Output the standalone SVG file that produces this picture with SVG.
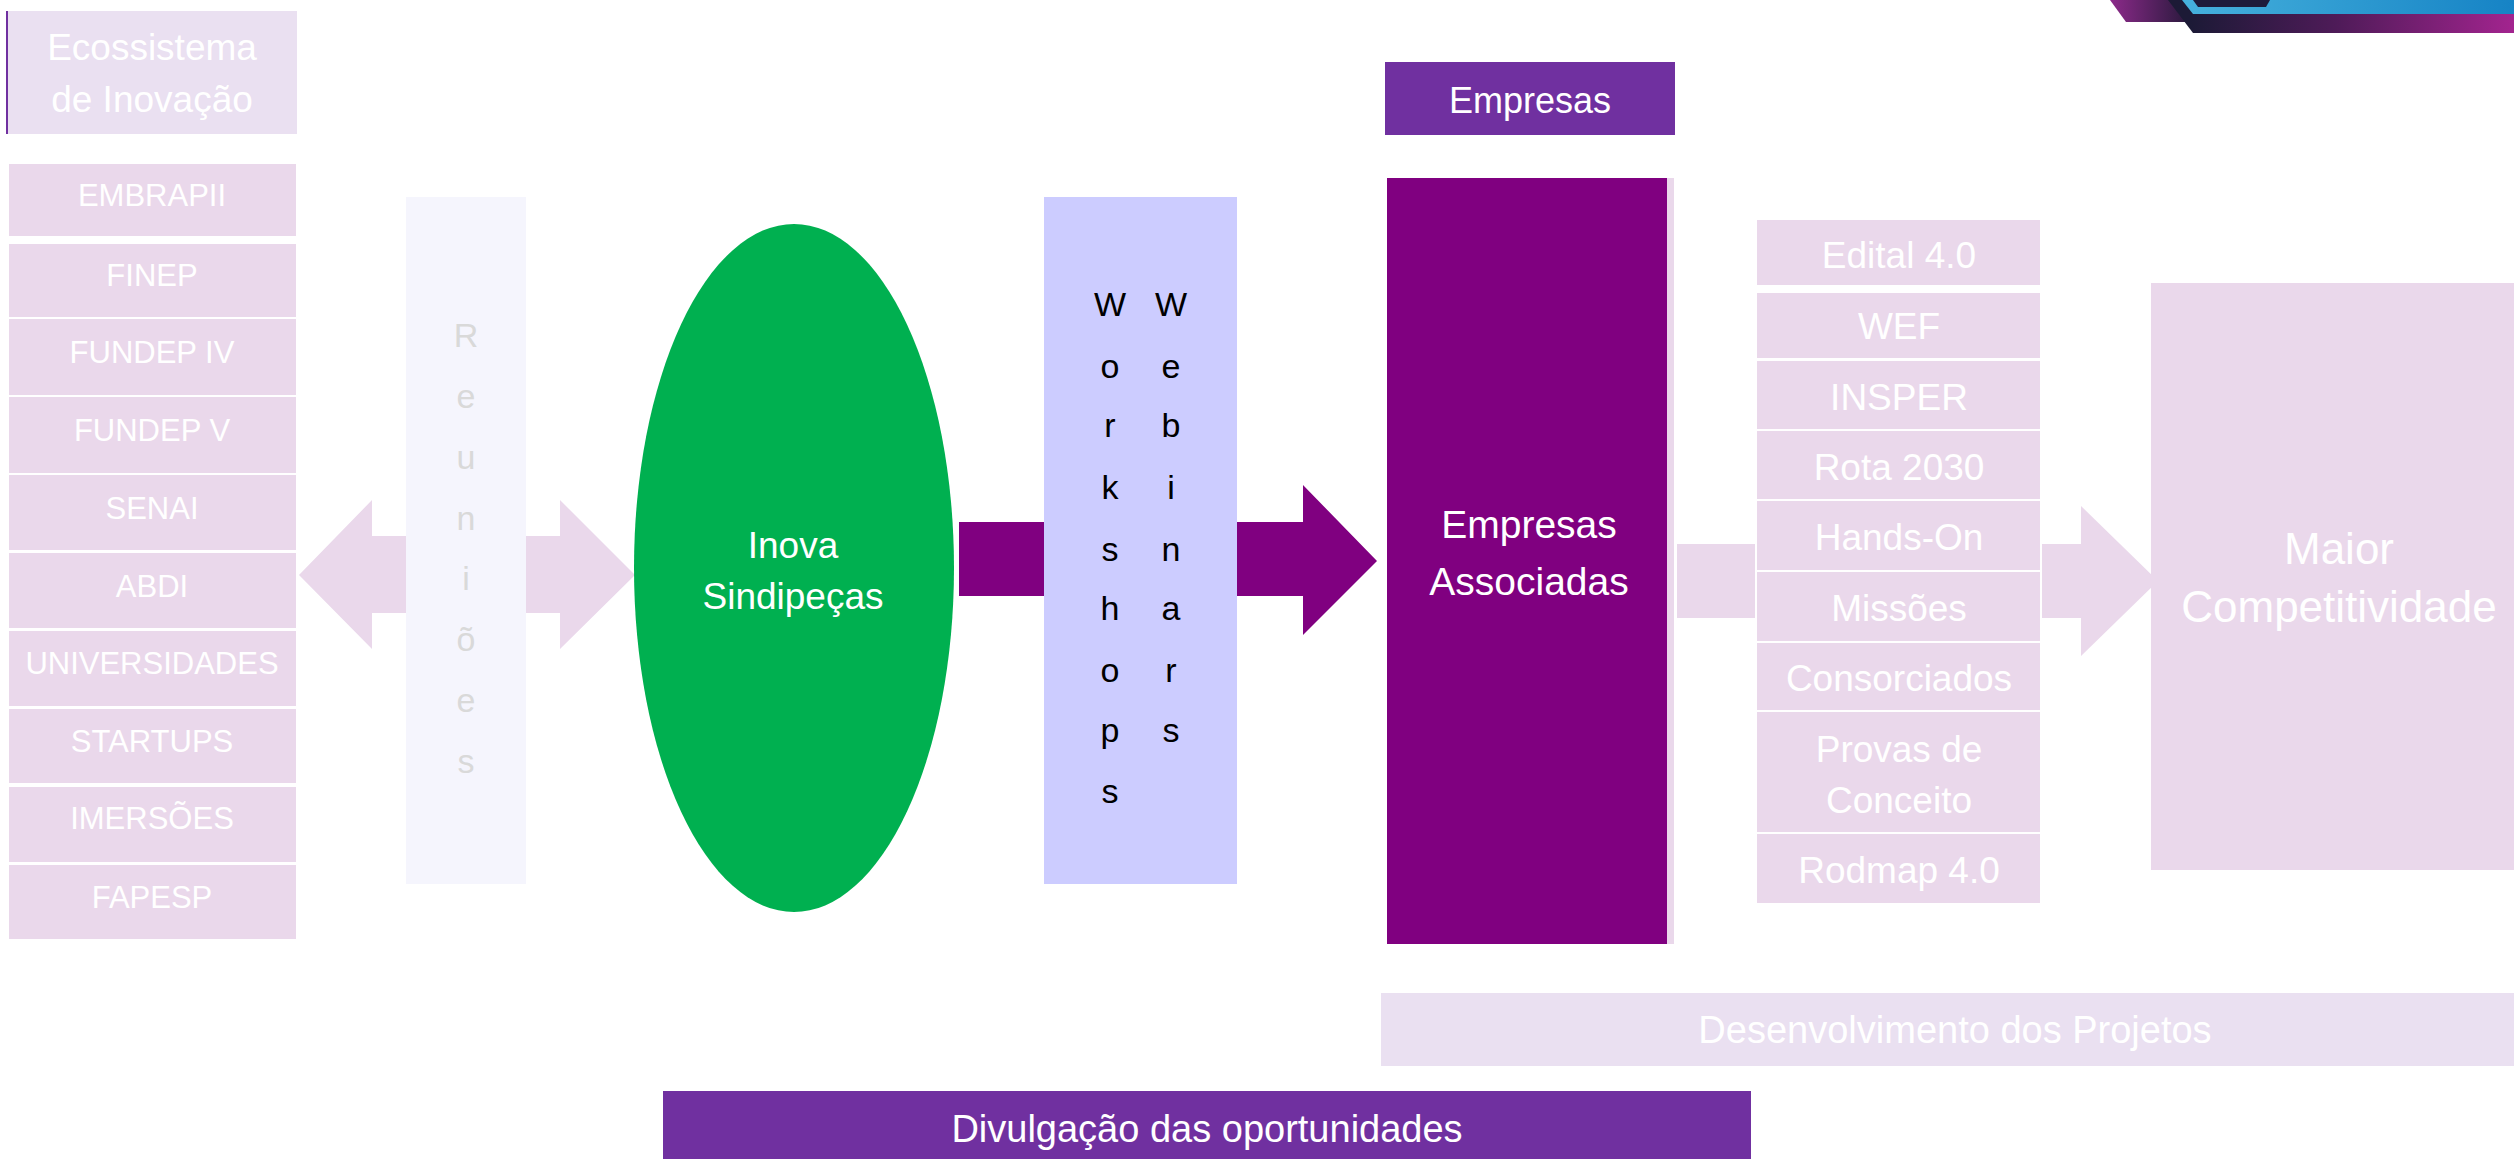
<svg xmlns="http://www.w3.org/2000/svg" width="2514" height="1159" viewBox="0 0 2514 1159">
<style>
.lb{fill:#EAD8EB}
.lv{fill:#EAE0F1}
.t{font-family:"Liberation Sans",Arial,sans-serif;text-anchor:middle;fill:#FFFFFF}
.s32{font-size:31px}
.s37{font-size:37px}
.g{fill:#D9D9D9;font-size:34px}
.k{fill:#000000;font-size:34px}
</style>
<defs>
<linearGradient id="gPur" gradientUnits="userSpaceOnUse" x1="2110" y1="0" x2="2185" y2="0"><stop offset="0" stop-color="#8C2A8A"/><stop offset="1" stop-color="#2E1A40"/></linearGradient>
<linearGradient id="gNavy" gradientUnits="userSpaceOnUse" x1="2190" y1="0" x2="2514" y2="0"><stop offset="0" stop-color="#1C1A36"/><stop offset="0.45" stop-color="#4E1B58"/><stop offset="1" stop-color="#A3248F"/></linearGradient>
<linearGradient id="gBlue" gradientUnits="userSpaceOnUse" x1="2190" y1="0" x2="2514" y2="0"><stop offset="0" stop-color="#45B0DC"/><stop offset="1" stop-color="#1683C5"/></linearGradient>
</defs>
<rect width="2514" height="1159" fill="#FFFFFF"/>

<g id="decoration">
<polygon points="2110,0 2172,0 2186,22 2126,22" fill="url(#gPur)"/>
<polygon points="2168,0 2514,0 2514,33 2193,33" fill="url(#gNavy)"/>
<polygon points="2182,0 2514,0 2514,14 2193,14" fill="url(#gBlue)"/>
<polygon points="2193,0 2270,0 2266,7 2198,7" fill="#1E1B3A"/>
</g>

<g id="connectors">
<polygon id="arrow-reunioes" class="lb" points="299,575 372,500 372,536 560,536 560,500 635,575 560,649 560,613 372,613 372,649"/>
<polygon id="arrow-inova" fill="#800080" points="959,522 1303,522 1303,485 1377,561 1303,635 1303,596 959,596"/>
<rect id="link-empresas" class="lb" x="1677" y="544" width="78" height="74"/>
<polygon id="arrow-competitividade" class="lb" points="2042,544 2081,544 2081,506 2158,581 2081,656 2081,618 2042,618"/>
</g>

<g id="ecossistema">
<rect class="lv" x="8" y="11" width="289" height="123"/>
<rect x="6" y="11" width="2" height="123" fill="#7030A0"/>
<text class="t s37" x="152" y="60">Ecossistema</text>
<text class="t s37" x="152" y="112">de Inovação</text>
</g>

<g id="embrapii"><rect class="lb" x="9" y="164" width="287" height="72"/><text class="t s32" x="152" y="206">EMBRAPII</text></g>
<g id="finep"><rect class="lb" x="9" y="244" width="287" height="73"/><text class="t s32" x="152" y="286">FINEP</text></g>
<g id="fundep-iv"><rect class="lb" x="9" y="319" width="287" height="76"/><text class="t s32" x="152" y="363">FUNDEP IV</text></g>
<g id="fundep-v"><rect class="lb" x="9" y="397" width="287" height="76"/><text class="t s32" x="152" y="441">FUNDEP V</text></g>
<g id="senai"><rect class="lb" x="9" y="475" width="287" height="75"/><text class="t s32" x="152" y="519">SENAI</text></g>
<g id="abdi"><rect class="lb" x="9" y="553" width="287" height="75"/><text class="t s32" x="152" y="597">ABDI</text></g>
<g id="universidades"><rect class="lb" x="9" y="631" width="287" height="75"/><text class="t s32" x="152" y="674">UNIVERSIDADES</text></g>
<g id="startups"><rect class="lb" x="9" y="709" width="287" height="74"/><text class="t s32" x="152" y="752">STARTUPS</text></g>
<g id="imersoes"><rect class="lb" x="9" y="787" width="287" height="75"/><text class="t s32" x="152" y="829">IMERSÕES</text></g>
<g id="fapesp"><rect class="lb" x="9" y="865" width="287" height="74"/><text class="t s32" x="152" y="908">FAPESP</text></g>

<g id="reunioes">
<rect x="406" y="197" width="120" height="687" fill="#F5F5FD"/>
<text class="t g" x="466" y="347">R</text>
<text class="t g" x="466" y="408">e</text>
<text class="t g" x="466" y="469">u</text>
<text class="t g" x="466" y="530">n</text>
<text class="t g" x="466" y="590">i</text>
<text class="t g" x="466" y="651">õ</text>
<text class="t g" x="466" y="712">e</text>
<text class="t g" x="466" y="773">s</text>
</g>

<g id="inova-sindipecas">
<ellipse cx="794" cy="568" rx="160" ry="344" fill="#00B050"/>
<text class="t s37" x="793" y="558">Inova</text>
<text class="t s37" x="793" y="609">Sindipeças</text>
</g>

<g id="workshops-webinars">
<rect x="1044" y="197" width="193" height="687" fill="#CCCCFF"/>
<text class="t k" x="1110" y="316">W</text>
<text class="t k" x="1110" y="378">o</text>
<text class="t k" x="1110" y="437">r</text>
<text class="t k" x="1110" y="499">k</text>
<text class="t k" x="1110" y="561">s</text>
<text class="t k" x="1110" y="620">h</text>
<text class="t k" x="1110" y="682">o</text>
<text class="t k" x="1110" y="742">p</text>
<text class="t k" x="1110" y="803">s</text>
<text class="t k" x="1171" y="316">W</text>
<text class="t k" x="1171" y="378">e</text>
<text class="t k" x="1171" y="437">b</text>
<text class="t k" x="1171" y="499">i</text>
<text class="t k" x="1171" y="561">n</text>
<text class="t k" x="1171" y="620">a</text>
<text class="t k" x="1171" y="682">r</text>
<text class="t k" x="1171" y="742">s</text>
</g>

<g id="empresas">
<rect x="1385" y="62" width="290" height="73" fill="#7030A0"/>
<text class="t" font-size="36" x="1530" y="113">Empresas</text>
</g>

<g id="empresas-associadas">
<rect x="1387" y="178" width="280" height="766" fill="#800080"/>
<rect class="lb" x="1667" y="178" width="7" height="766"/>
<text class="t" font-size="39" x="1529" y="538">Empresas</text>
<text class="t" font-size="39" x="1529" y="595">Associadas</text>
</g>

<g id="edital"><rect class="lb" x="1757" y="220" width="283" height="65"/><text class="t s37" x="1899" y="268">Edital 4.0</text></g>
<g id="wef"><rect class="lb" x="1757" y="293" width="283" height="65"/><text class="t s37" x="1899" y="339">WEF</text></g>
<g id="insper"><rect class="lb" x="1757" y="361" width="283" height="68"/><text class="t s37" x="1899" y="410">INSPER</text></g>
<g id="rota"><rect class="lb" x="1757" y="431" width="283" height="68"/><text class="t s37" x="1899" y="480">Rota 2030</text></g>
<g id="hands-on"><rect class="lb" x="1757" y="501" width="283" height="69"/><text class="t s37" x="1899" y="550">Hands-On</text></g>
<g id="missoes"><rect class="lb" x="1757" y="572" width="283" height="69"/><text class="t s37" x="1899" y="621">Missões</text></g>
<g id="consorciados"><rect class="lb" x="1757" y="643" width="283" height="67"/><text class="t s37" x="1899" y="691">Consorciados</text></g>
<g id="provas"><rect class="lb" x="1757" y="712" width="283" height="120"/><text class="t s37" x="1899" y="762">Provas de</text><text class="t s37" x="1899" y="813">Conceito</text></g>
<g id="rodmap"><rect class="lb" x="1757" y="834" width="283" height="69"/><text class="t s37" x="1899" y="883">Rodmap 4.0</text></g>

<g id="maior-competitividade">
<rect class="lb" x="2151" y="283" width="363" height="587"/>
<text class="t" font-size="44" x="2339" y="564">Maior</text>
<text class="t" font-size="44" x="2339" y="622">Competitividade</text>
</g>

<g id="desenvolvimento">
<rect class="lv" x="1381" y="993" width="1133" height="73"/>
<text class="t" font-size="38" x="1955" y="1043">Desenvolvimento dos Projetos</text>
</g>

<g id="divulgacao">
<rect x="663" y="1091" width="1088" height="68" fill="#7030A0"/>
<text class="t" font-size="38" x="1207" y="1142">Divulgação das oportunidades</text>
</g>
</svg>
